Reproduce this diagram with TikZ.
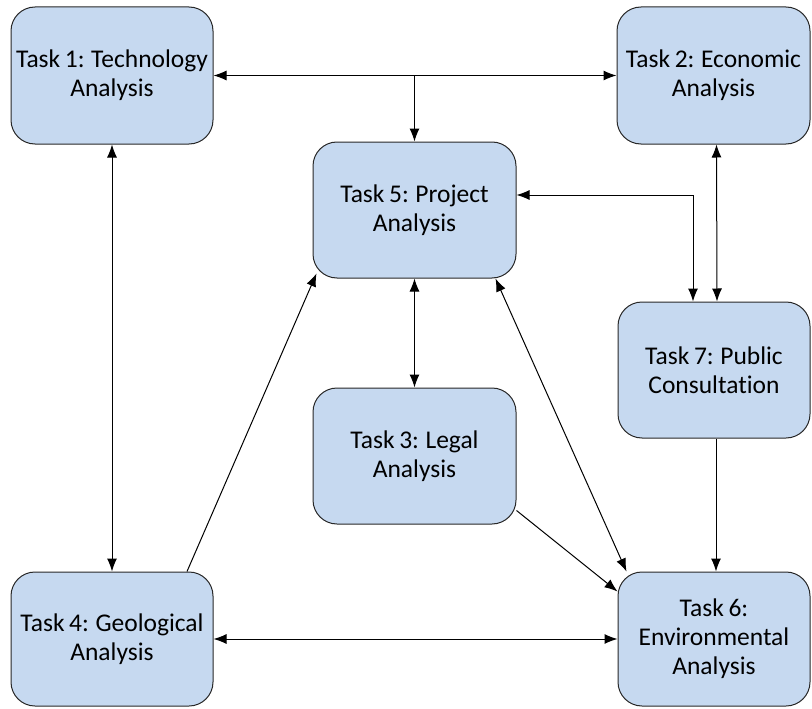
\documentclass[tikz,border=0pt]{standalone}
\usepackage{fontspec}
\setmainfont{Carlito}[Ligatures=NoCommon, WordSpace={0.8,0.5,0.5}]
\usetikzlibrary{arrows.meta}
\definecolor{boxfill}{RGB}{198,217,240}
\definecolor{boxline}{RGB}{40,40,40}
\begin{document}
\begin{tikzpicture}[x=1pt,y=-1pt,
  taskbox/.style={draw=boxline, line width=1pt, fill=boxfill, rounded corners=24pt,
    align=center, inner sep=2pt, font=\fontsize{25.5}{29}\selectfont},
  conn/.style={line width=1pt, draw=black},
  tip/.style={-{Latex[length=13pt,width=10pt]}},
  tips/.style={{Latex[length=13pt,width=10pt]}-{Latex[length=13pt,width=10pt]}}]
\useasboundingbox (0,0) rectangle (812,709);
\node[taskbox, minimum width=202pt, minimum height=137pt] (t1) at (112,75.5) {Task 1: Technology\\Analysis};
\node[taskbox, minimum width=193pt, minimum height=137pt] (t2) at (713.5,75.5) {Task 2: Economic\\Analysis};
\node[taskbox, minimum width=203pt, minimum height=136pt] (t5) at (414.5,210) {Task 5: Project\\Analysis};
\node[taskbox, minimum width=192pt, minimum height=136pt] (t7) at (714,370) {Task 7: Public\\Consultation};
\node[taskbox, minimum width=203pt, minimum height=136pt] (t3) at (414.5,456) {Task 3: Legal\\Analysis};
\node[taskbox, minimum width=202pt, minimum height=134pt] (t4) at (112,639) {Task 4: Geological\\Analysis};
\node[taskbox, minimum width=192pt, minimum height=134pt] (t6) at (714,639) {Task 6:\\Environmental\\Analysis};

\coordinate (j) at (t5.north |- t1.east);
\draw[conn, tips] (t1.east) -- (t2.west);
\draw[conn, tip] (j) -- (t5.north);
\draw[conn, tips] (t1.south) -- (t4.north);
\draw[conn, tips] ([xshift=3pt]t2.south) -- ([xshift=3pt]t7.north);
\draw[conn, tips] ([yshift=15pt]t5.east) -| ([xshift=-21pt]t7.north);
\draw[conn, tips] (t5.south) -- (t3.north);
\draw[conn, tip] ([xshift=75pt]t4.north) -- ([xshift=4pt,yshift=5pt]t5.south west);
\draw[conn, tips] ([xshift=-21pt]t5.south east) -- ([xshift=9pt]t6.north west);
\draw[conn, tip] ([yshift=14pt]t3.south east) -- ([yshift=-20pt]t6.north west);
\draw[conn, tip] ([xshift=2pt]t7.south) -- ([xshift=2pt]t6.north);
\draw[conn, tips] (t4.east) -- (t6.west);
\end{tikzpicture}
\end{document}
